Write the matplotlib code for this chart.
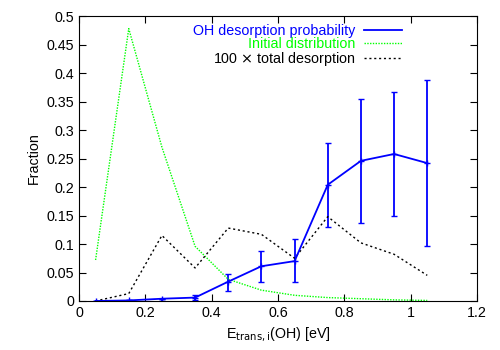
import matplotlib
matplotlib.use('Agg')
import matplotlib.pyplot as plt

plt.rcParams['font.family'] = ['Liberation Sans', 'DejaVu Sans']
plt.rcParams['font.size'] = 10.3

# datos
energia = [0.05, 0.15, 0.25, 0.35, 0.45, 0.55, 0.65, 0.75, 0.85, 0.95, 1.05]
prob_oh = [0.0, 0.001, 0.004, 0.006, 0.034, 0.061, 0.070, 0.204, 0.246, 0.258, 0.242]
err_bajo = [0.0, 0.0, 0.0, 0.002, 0.018, 0.033, 0.033, 0.130, 0.137, 0.149, 0.096]
err_alto = [0.0, 0.001, 0.004, 0.010, 0.048, 0.088, 0.109, 0.277, 0.354, 0.367, 0.388]
dist_inicial = [0.072, 0.478, 0.270, 0.096, 0.038, 0.019, 0.010, 0.006, 0.004, 0.002, 0.001]
total_desorcion = [0.0, 0.013, 0.115, 0.058, 0.128, 0.117, 0.075, 0.148, 0.102, 0.082, 0.045]

yerr = [[p - b for p, b in zip(prob_oh, err_bajo)],
        [a - p for p, a in zip(prob_oh, err_alto)]]

fig = plt.figure(figsize=(5, 3.5), dpi=100)
ax = fig.add_axes([0.158, 0.14, 0.796, 0.814])

ax.errorbar(energia, prob_oh, yerr=yerr, color='#0000ff', lw=1.3, capsize=2,
            marker='+', ms=4)
l1, = ax.plot([], [], color='#0000ff', lw=1.3, label='OH desorption probability')
l2, = ax.plot(energia, dist_inicial, color='#00ff00', lw=1, ls=(0, (1, 1)),
              label='Initial distribution')
l3, = ax.plot(energia, total_desorcion, color='black', lw=1, ls=(0, (1.5, 2)),
              label=r'100 $\times$ total desorption')

ax.set_xlim(0, 1.2)
ax.set_ylim(0, 0.5)
ax.set_xticks([0, 0.2, 0.4, 0.6, 0.8, 1, 1.2])
ax.set_xticklabels(['0', '0.2', '0.4', '0.6', '0.8', '1', '1.2'])
ax.set_yticks([0, 0.05, 0.1, 0.15, 0.2, 0.25, 0.3, 0.35, 0.4, 0.45, 0.5])
ax.set_yticklabels(['0', '0.05', '0.1', '0.15', '0.2', '0.25', '0.3', '0.35', '0.4', '0.45', '0.5'])
ax.tick_params(direction='in', top=True, right=True, length=5)
ax.set_xlabel(r'E$_{\mathrm{trans,i}}$(OH) [eV]')
ax.set_ylabel('Fraction')

leg = ax.legend(handles=[l1, l2, l3], loc='upper right', frameon=False,
                bbox_to_anchor=(0.804, 0.93), bbox_transform=fig.transFigure,
                markerfirst=False, handlelength=2.66, handletextpad=0.6,
                labelspacing=-0.1, borderaxespad=0, borderpad=0,
                labelcolor='linecolor')
for vp in leg._legend_box._children[-1]._children:
    vp.align = 'right'

fig.savefig('out.png', dpi=100)
